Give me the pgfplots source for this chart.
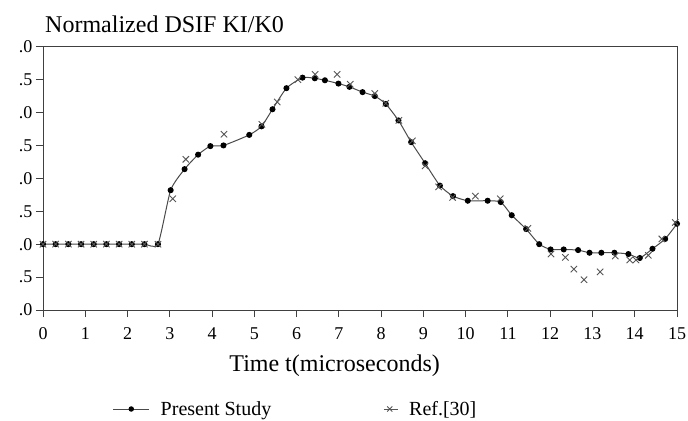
\documentclass[border=0pt]{standalone}
\usepackage{fontspec}
\setmainfont{Liberation Serif}
\usepackage{pgfplots}
\pgfplotsset{compat=1.18}
\definecolor{curve}{HTML}{4A4A4A}
\definecolor{refc}{HTML}{555555}
\begin{document}
\begin{tikzpicture}
\path[use as bounding box] (0bp,0bp) rectangle (688bp,421bp);
\begin{axis}[
  at={(43bp,111bp)}, anchor=south west,
  scale only axis, width=634bp, height=263.3bp,
  xmin=0, xmax=15, ymin=-1, ymax=3,
  xtick={0,1,...,15},
  ytick={-1,-0.5,0,0.5,1,1.5,2,2.5,3},
  yticklabels={.0,.5,.0,.5,.0,.5,.0,.5,.0},
  tick pos=left, tick align=outside,
  major tick length=7bp,
  axis line style={draw=black!75, line width=1bp},
  every tick/.style={black!75, line width=1bp},
  /pgf/number format/assume math mode=true,
  tick label style={font=\fontsize{18bp}{20bp}\selectfont},
  xticklabel style={yshift=-7bp},
  xlabel={Time t(microseconds)},
  xlabel style={font=\fontsize{24bp}{26bp}\selectfont, at={(axis description cs:0.46,-0.232)}, anchor=base},
  legend columns=2,
  legend style={draw=none, fill=none, at={(axis description cs:0.110,-0.376)}, anchor=west,
    font=\fontsize{20bp}{22bp}\selectfont, inner sep=0pt, outer sep=0pt,
    /tikz/every odd column/.append style={column sep=9bp},
    /tikz/every even column/.append style={column sep=110bp}},
  legend cell align=left,
]
\addplot[curve, line width=1bp, smooth, tension=0.35,
  mark=*, mark size=2.5bp, mark options={fill=black, draw=black},
  legend image code/.code={
    \draw[curve, line width=1bp] (0bp,0bp) -- (36bp,0bp);
    \fill[black] (18bp,0bp) circle (2.2bp);
  }] coordinates {
(0,0) (0.3,0) (0.6,0) (0.9,0) (1.2,0) (1.5,0) (1.8,0) (2.1,0) (2.4,0) (2.72,0)
(3.02,0.82) (3.35,1.14) (3.67,1.36) (3.96,1.49) (4.27,1.50) (4.88,1.66)
(5.17,1.79) (5.43,2.05) (5.76,2.37) (6.14,2.53) (6.43,2.52) (6.67,2.49)
(6.99,2.44) (7.25,2.39) (7.56,2.31) (7.85,2.25) (8.11,2.13) (8.41,1.88)
(8.71,1.55) (9.04,1.23) (9.39,0.89) (9.70,0.73) (10.05,0.66) (10.52,0.66)
(10.83,0.64) (11.09,0.44) (11.43,0.23) (11.74,0.0) (12.01,-0.08) (12.32,-0.08)
(12.66,-0.09) (12.93,-0.13) (13.21,-0.13) (13.52,-0.13) (13.85,-0.15)
(14.12,-0.21) (14.42,-0.07) (14.72,0.08) (15.0,0.31)
};
\addlegendentry{Present Study}
\addplot[only marks, mark=x, mark size=4.5bp, refc, line width=0.9bp,
  legend image code/.code={
    \path (0bp,0bp) -- (14bp,0bp);
    \draw[refc, line width=0.9bp] plot[mark=x, mark size=3.6bp] coordinates {(6bp,0bp)};
  }] coordinates {
(0,0) (0.3,0) (0.6,0) (0.9,0) (1.2,0) (1.5,0) (1.8,0) (2.1,0) (2.4,0) (2.72,0)
(3.07,0.69) (3.38,1.29) (4.28,1.67) (5.18,1.82) (5.54,2.16) (6.03,2.50)
(6.44,2.58) (6.96,2.58) (7.27,2.43) (7.85,2.29) (8.11,2.14) (8.42,1.88)
(8.74,1.57) (9.04,1.19) (9.36,0.87) (9.69,0.71) (10.23,0.73) (10.82,0.69)
(11.47,0.24) (12.02,-0.15) (12.36,-0.20) (12.56,-0.38) (12.80,-0.54)
(13.18,-0.42) (13.54,-0.18) (13.88,-0.24) (14.03,-0.24) (14.32,-0.17)
(14.64,0.08) (14.96,0.33)
};
\addlegendentry{Ref.[30]}
\end{axis}
\node[anchor=base west, inner sep=0pt, font=\fontsize{24bp}{26bp}\selectfont] at (45bp,388bp) {Normalized DSIF KI/K0};
\end{tikzpicture}
\end{document}
